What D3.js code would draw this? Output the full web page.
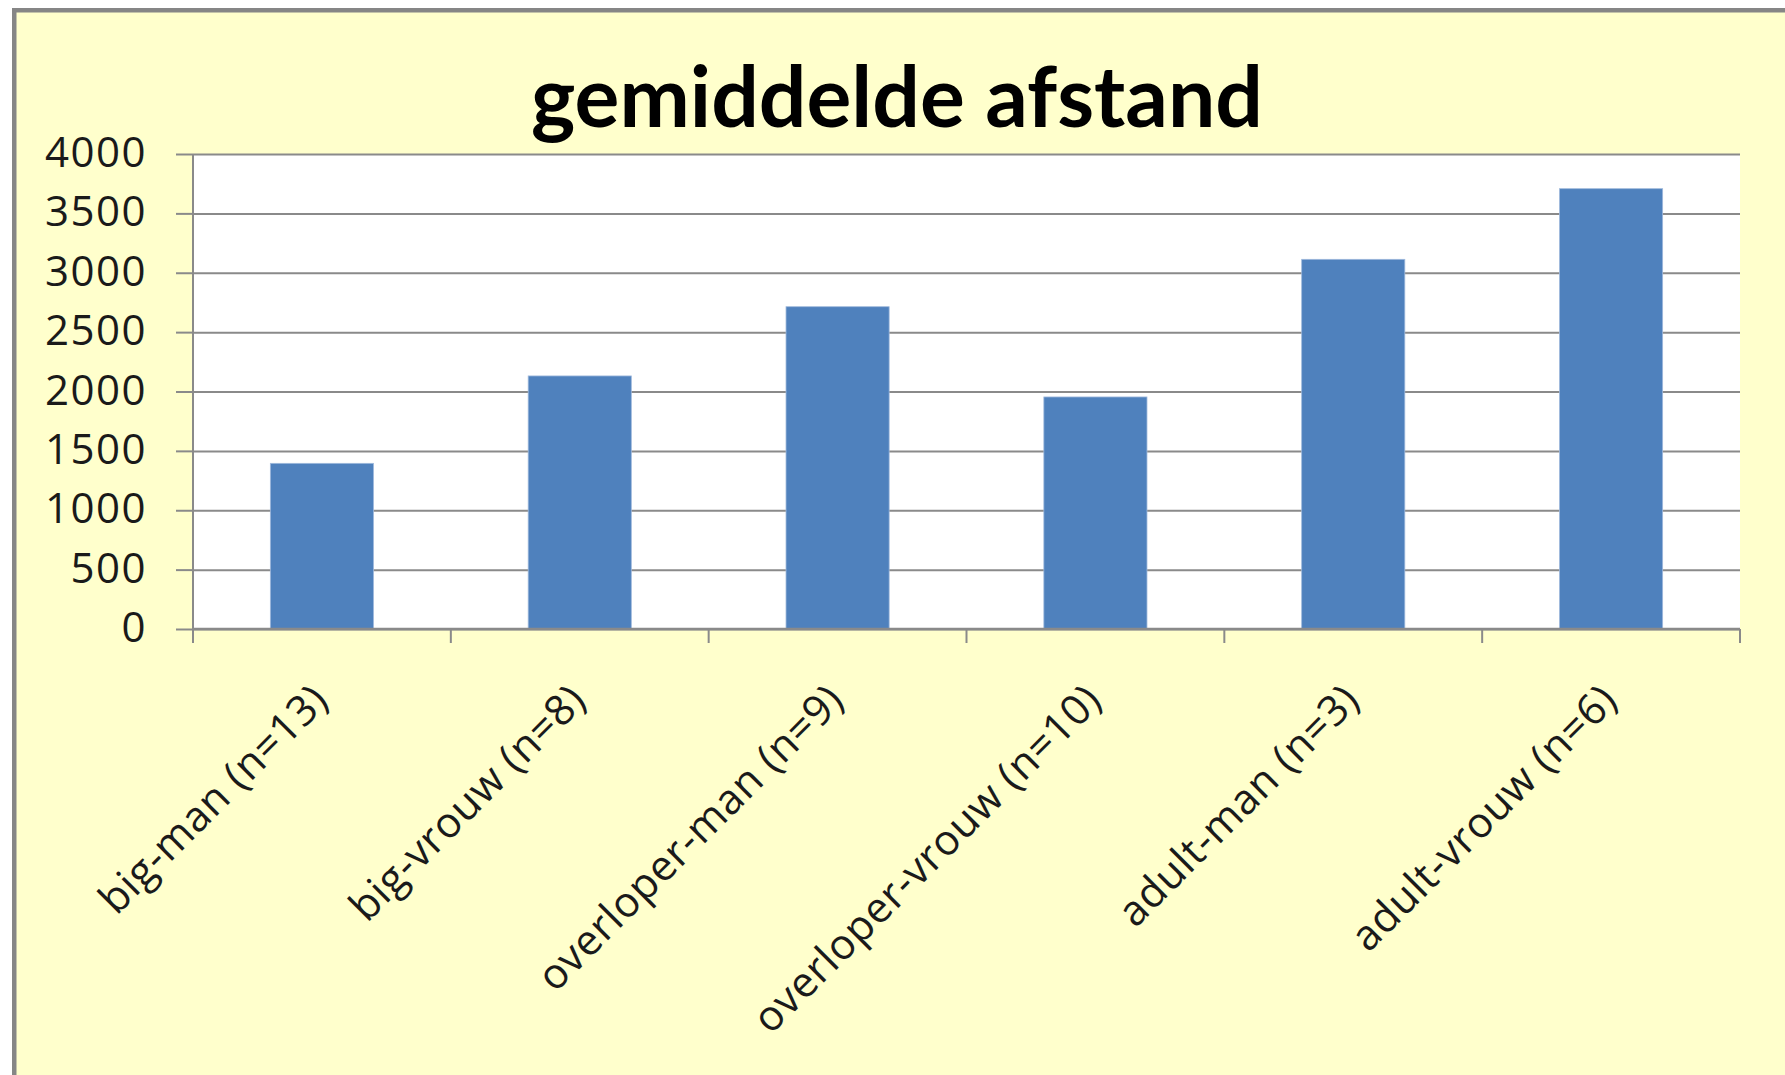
<!DOCTYPE html>
<html>
<head>
<meta charset="utf-8">
<script src="https://cdn.jsdelivr.net/npm/d3@7"></script>
<style>
  body { margin: 0; background: #ffffff; }
  svg { display: block; }
</style>
</head>
<body>
<div id="chart"></div>
<script>
// data
const categories = ["big-man (n=13)", "big-vrouw (n=8)", "overloper-man (n=9)",
                    "overloper-vrouw (n=10)", "adult-man (n=3)", "adult-vrouw (n=6)"];
const afstand = [1395, 2131, 2714, 1954, 3113, 3708];
const yTicks = [0, 500, 1000, 1500, 2000, 2500, 3000, 3500, 4000];
const title = "gemiddelde afstand";

const W = 1785, H = 1075;
// plot area
const margin = {top: 154, right: 45, bottom: 446, left: 193};
const width = W - margin.left - margin.right,
      height = H - margin.top - margin.bottom;

const axisFont = "'Open Sans', Lato, sans-serif";

const svg = d3.select("#chart")
  .append("svg")
  .attr("width", W)
  .attr("height", H);

// chart background + frame (runs off the right and bottom edge)
svg.append("rect")
  .attr("x", 14.25).attr("y", 10.25)
  .attr("width", W + 50).attr("height", H + 50)
  .attr("fill", "#ffffcc")
  .attr("stroke", "#868686")
  .attr("stroke-width", 4.5);

// title
svg.append("text")
  .attr("x", 897).attr("y", 127)
  .attr("text-anchor", "middle")
  .style("font-family", "Lato, 'Open Sans', sans-serif")
  .style("font-weight", "bold")
  .style("font-size", "84px")
  .style("fill", "#000")
  .text(title);

const g = svg.append("g")
  .attr("transform", `translate(${margin.left},${margin.top})`);

// white plot area
g.append("rect")
  .attr("width", width).attr("height", height)
  .attr("fill", "#ffffff");

const x = d3.scaleBand()
  .domain(categories)
  .range([0, width])
  .paddingInner(0.6)
  .paddingOuter(0.3);

const y = d3.scaleLinear()
  .domain([0, 4000])
  .range([height, 0]);

// gridlines
const grid = g.append("g")
  .call(d3.axisLeft(y).tickValues(yTicks).tickSize(-width).tickFormat(""));
grid.select(".domain").remove();
grid.selectAll("line")
  .attr("stroke", "#8a8a8a")
  .attr("stroke-width", 2);

// Y axis with labels
const yAxis = g.append("g")
  .call(d3.axisLeft(y).tickValues(yTicks).tickSize(17).tickPadding(29).tickFormat(d3.format("d")));
yAxis.select(".domain").remove();
yAxis.selectAll("line").attr("stroke", "#8a8a8a").attr("stroke-width", 2);
yAxis.selectAll("text")
  .style("font-family", axisFont)
  .style("font-size", "42px")
  .style("letter-spacing", "1.5px")
  .attr("dy", "0.3em")
  .attr("fill", "#1a1a1a");

// bars
g.append("g")
  .selectAll("rect")
  .data(afstand)
  .join("rect")
  .attr("x", (d, i) => x(categories[i]))
  .attr("y", d => y(d))
  .attr("width", x.bandwidth())
  .attr("height", d => height - y(d))
  .attr("fill", "#4f81bd")
  .attr("stroke", "#9fb9dc")
  .attr("stroke-width", 0.8);

// vertical axis line
g.append("line")
  .attr("x1", 0).attr("x2", 0)
  .attr("y1", 0).attr("y2", height)
  .attr("stroke", "#8a8a8a").attr("stroke-width", 2);

// x axis line with ticks on the category boundaries
const step = x.step();
const bounds = d3.range(categories.length + 1).map(i => i * step);
const xAxis = g.append("g").attr("transform", `translate(0,${height})`);
xAxis.append("line")
  .attr("x1", 0).attr("x2", width)
  .attr("stroke", "#8a8a8a").attr("stroke-width", 2.5);
xAxis.selectAll("line.tick")
  .data(bounds)
  .join("line")
  .attr("class", "tick")
  .attr("x1", d => d).attr("x2", d => d)
  .attr("y1", 0).attr("y2", 14)
  .attr("stroke", "#8a8a8a").attr("stroke-width", 2);

// rotated category labels
xAxis.selectAll("text")
  .data(categories)
  .join("text")
  .attr("transform", d => `translate(${x(d) + x.bandwidth() / 2 - 2},63) rotate(-45)`)
  .attr("text-anchor", "end")
  .attr("dy", "0.35em")
  .style("font-family", axisFont)
  .style("font-size", "42px")
  .style("letter-spacing", "0.6px")
  .attr("fill", "#1a1a1a")
  .text(d => d);
</script>
</body>
</html>
